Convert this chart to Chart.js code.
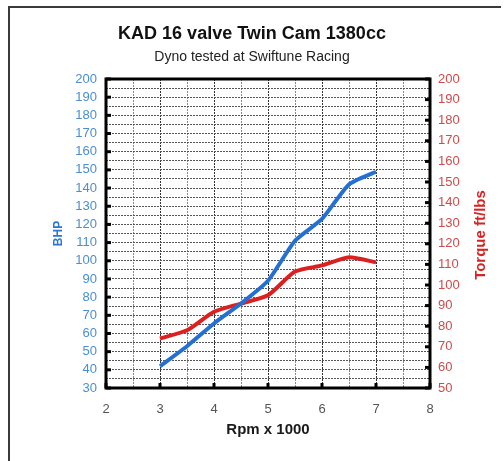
<!DOCTYPE html>
<html><head><meta charset="utf-8">
<script src="https://cdn.jsdelivr.net/npm/chart.js@4.4.0/dist/chart.umd.min.js"></script>
<style>html,body{margin:0;padding:0;background:#fff;overflow:hidden}#wrap{width:504px;height:461px;position:relative}</style>
</head><body><div id="wrap"><canvas id="c" width="504" height="461"></canvas></div>
<script>
const titleText = 'KAD 16 valve Twin Cam 1380cc';
const subtitleText = 'Dyno tested at Swiftune Racing';
const rpm = [3, 3.5, 4, 4.5, 5, 5.5, 6, 6.5, 7];
const bhp = [42, 53, 65.5, 76.5, 89, 111, 123, 142, 149];
const torque = [74, 78, 87, 91, 95, 106.5, 109.5, 113.5, 111];
const xTickLabels = [2, 3, 4, 5, 6, 7, 8];
const bhpTickLabels = [30, 40, 50, 60, 70, 80, 90, 100, 110, 120, 130, 140, 150, 160, 170, 180, 190, 200];
const torqueTickLabels = [50, 60, 70, 80, 90, 100, 110, 120, 130, 140, 150, 160, 170, 180, 190, 200];

const FONT = 'Arial, "Liberation Sans", sans-serif';

const deco = {
  id: 'deco',
  beforeDraw(chart) {
    const ctx = chart.ctx;
    ctx.save();
    ctx.fillStyle = '#fff';
    ctx.fillRect(0, 0, chart.width, chart.height);
    ctx.strokeStyle = '#3a3a3a';
    ctx.lineWidth = 2;
    ctx.beginPath();
    ctx.moveTo(9, chart.height);
    ctx.lineTo(9, 7);
    ctx.lineTo(chart.width - 3, 7);
    ctx.stroke();
    ctx.restore();
  },
  afterDatasetsDraw(chart) {
    const ctx = chart.ctx;
    const a = chart.chartArea;
    const sx = chart.scales.x, sy = chart.scales.y, sy1 = chart.scales.y1;
    ctx.save();
    ctx.fillStyle = '#000';
    bhpTickLabels.forEach(v => {
      const p = sy.getPixelForValue(v);
      ctx.fillRect(a.left, p - 1.5, 5, 3);
    });
    torqueTickLabels.forEach(v => {
      const p = sy1.getPixelForValue(v);
      ctx.fillRect(a.right - 5, p - 1.5, 5, 3);
    });
    xTickLabels.forEach(v => {
      const p = sx.getPixelForValue(v);
      ctx.fillRect(p - 1.5, a.bottom - 5, 3, 5);
    });
    ctx.strokeStyle = '#000';
    ctx.lineWidth = 3;
    ctx.strokeRect(a.left, a.top, a.right - a.left, a.bottom - a.top);
    ctx.restore();
  },
  afterDraw(chart) {
    const ctx = chart.ctx;
    ctx.save();
    ctx.translate(481, 235);
    ctx.rotate(-Math.PI / 2);
    ctx.font = 'bold 15px ' + FONT;
    ctx.fillStyle = '#d42424';
    ctx.textAlign = 'center';
    ctx.textBaseline = 'middle';
    ctx.fillText('Torque ft/lbs', 0, 0);
    ctx.restore();
  }
};

new Chart(document.getElementById('c'), {
  type: 'line',
  data: {
    datasets: [
      {
        label: 'BHP',
        data: rpm.map((r, i) => ({x: r, y: bhp[i]})),
        borderColor: '#2470d2',
        borderWidth: 4,
        pointRadius: 0,
        tension: 0.2,
        yAxisID: 'y'
      },
      {
        label: 'Torque',
        data: rpm.map((r, i) => ({x: r, y: torque[i]})),
        borderColor: '#dc2020',
        borderWidth: 4,
        pointRadius: 0,
        tension: 0.2,
        yAxisID: 'y1'
      }
    ]
  },
  options: {
    responsive: false,
    animation: false,
    devicePixelRatio: 1,
    layout: {padding: 0},
    plugins: {
      legend: {display: false},
      tooltip: {enabled: false},
      title: {
        display: true,
        text: titleText,
        color: '#111',
        font: {family: FONT, size: 18, weight: 'bold'},
        padding: {top: 23, bottom: 4}
      },
      subtitle: {
        display: true,
        text: subtitleText,
        color: '#222',
        font: {family: FONT, size: 14},
        padding: {top: 0, bottom: 13.6}
      }
    },
    scales: {
      x: {
        type: 'linear',
        min: 2, max: 8,
        ticks: {
          stepSize: 0.5,
          autoSkip: false,
          maxRotation: 0,
          color: '#555',
          padding: 14,
          font: {family: FONT, size: 13},
          callback: v => xTickLabels.includes(v) ? String(v) : ''
        },
        grid: {
          drawTicks: false,
          lineWidth: 1,
          color: ctx => (ctx.tick && Number.isInteger(ctx.tick.value)) ? '#333' : '#8a8a8a'
        },
        border: {display: false, dash: [2, 1]},
        title: {
          display: true,
          text: 'Rpm x 1000',
          color: '#1a1a1a',
          font: {family: FONT, size: 15, weight: 'bold'},
          padding: {top: 0, bottom: 22}
        },
        afterFit: s => { s.height = 73; }
      },
      y: {
        position: 'left',
        min: 30, max: 200,
        ticks: {
          stepSize: 5,
          autoSkip: false,
          color: '#4a8fd2',
          padding: 9,
          font: {family: FONT, size: 13},
          callback: v => bhpTickLabels.includes(v) ? String(v) : ''
        },
        grid: {drawTicks: false, lineWidth: 1, color: '#555'},
        border: {display: false, dash: [2, 1]},
        title: {
          display: true,
          text: 'BHP',
          color: '#2a78d0',
          font: {family: FONT, size: 12, weight: 'bold'},
          padding: {top: 51, bottom: 0}
        },
        afterFit: s => { s.width = 106; }
      },
      y1: {
        position: 'right',
        min: 50, max: 200,
        ticks: {
          stepSize: 10,
          autoSkip: false,
          color: '#d24a4a',
          padding: 8,
          font: {family: FONT, size: 13},
          callback: v => torqueTickLabels.includes(v) ? String(v) : ''
        },
        grid: {display: false, drawTicks: false},
        border: {display: false},
        afterFit: s => { s.width = 74; }
      }
    }
  },
  plugins: [deco]
});
</script>
</body></html>
